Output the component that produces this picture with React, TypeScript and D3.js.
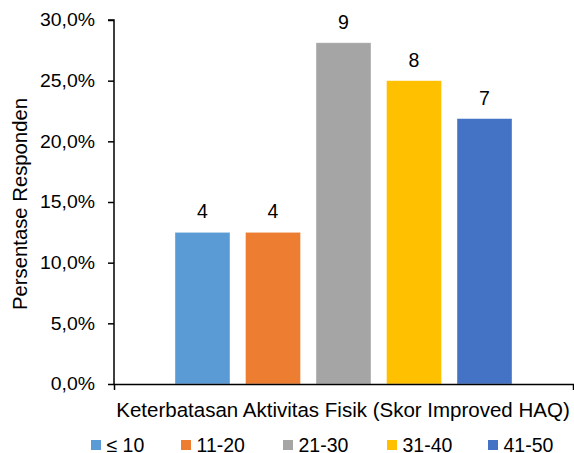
import React from 'react';
import * as d3 from 'd3';

const categories = ['≤ 10', '11-20', '21-30', '31-40', '41-50'];
const counts = [4, 4, 9, 8, 7];
const percents = [12.5, 12.5, 28.125, 25, 21.875];
const colors = ['#5B9BD5', '#ED7D31', '#A5A5A5', '#FFC000', '#4472C4'];
const yTicks = [0, 5, 10, 15, 20, 25, 30];
const xTitle = 'Keterbatasan Aktivitas Fisik (Skor Improved HAQ)';
const yTitle = 'Persentase Responden';

const W = 574;
const H = 453;
const margin = { top: 20, right: 1, bottom: 69, left: 114 };

const App = () => {
  const ref = React.useRef<SVGSVGElement>(null);

  React.useEffect(() => {
    const root = d3.select(ref.current);
    root.selectAll('*').remove();
    const font = 'Liberation Sans, Arial, sans-serif';
    const tickStretch = 1.08;

    const y = d3.scaleLinear().domain([0, 30]).range([H - margin.bottom, margin.top]);
    const x0 = d3.scaleBand().domain(['g']).range([margin.left, W - margin.right]).paddingOuter(0.151);
    const x1 = d3.scaleBand().domain(categories).range([x0('g')!, x0('g')! + x0.bandwidth()])
      .paddingInner(0.22).paddingOuter(0.11);

    // bars
    root.append('g').selectAll('rect')
      .data(categories)
      .enter()
      .append('rect')
      .attr('x', d => x1(d)!)
      .attr('y', (d, i) => y(percents[i]))
      .attr('width', x1.bandwidth())
      .attr('height', (d, i) => y(0) - y(percents[i]))
      .attr('fill', (d, i) => colors[i])
      .attr('stroke', '#ffffff')
      .attr('stroke-opacity', 0.5)
      .attr('stroke-width', 0.75);

    // value labels
    root.append('g').selectAll('text')
      .data(categories)
      .enter()
      .append('text')
      .attr('x', d => x1(d)! + x1.bandwidth() / 2)
      .attr('y', (d, i) => y(percents[i]) - 14)
      .attr('text-anchor', 'middle')
      .attr('font-family', font)
      .attr('font-size', 19.5)
      .attr('fill', '#000')
      .text((d, i) => String(counts[i]));

    // y axis
    const yAxis = root.append('g')
      .attr('transform', `translate(${margin.left},0)`)
      .call(d3.axisLeft(y).tickValues(yTicks).tickSize(6)
        .tickFormat(d => (d as number).toFixed(1).replace('.', ',') + '%'));
    yAxis.select('.domain').attr('d', `M-6,${y(30)}H0V${y(0)}`).attr('stroke', '#000').attr('stroke-width', 1.5);
    yAxis.selectAll('.tick line').attr('stroke', '#000').attr('stroke-width', 1.5);
    yAxis.selectAll('.tick text')
      .attr('x', -19 / tickStretch)
      .attr('transform', `scale(${tickStretch},1)`)
      .attr('font-family', font).attr('font-size', 18).attr('fill', '#000');

    // x axis
    const xAxis = root.append('g')
      .attr('transform', `translate(0,${y(0)})`)
      .call(d3.axisBottom(x0).tickValues([]).tickSizeOuter(6));
    xAxis.select('.domain').attr('stroke', '#000').attr('stroke-width', 1.5);

    // axis titles
    root.append('text')
      .attr('x', (margin.left + W - margin.right) / 2 - 0.5)
      .attr('y', 417)
      .attr('text-anchor', 'middle')
      .attr('font-family', font)
      .attr('font-size', 20.5)
      .attr('fill', '#000')
      .text(xTitle);

    root.append('text')
      .attr('transform', `translate(27,${(margin.top + y(0)) / 2 + 2}) rotate(-90)`)
      .attr('text-anchor', 'middle')
      .attr('font-family', font)
      .attr('font-size', 20.3)
      .attr('fill', '#000')
      .text(yTitle);

    // legend
    const legendX = [91, 181, 283, 387, 488];
    const legend = root.append('g').selectAll('g')
      .data(categories)
      .enter()
      .append('g')
      .attr('transform', (d, i) => `translate(${legendX[i]},440)`);
    legend.append('rect')
      .attr('width', 10).attr('height', 10)
      .attr('fill', (d, i) => colors[i]);
    legend.append('text')
      .attr('x', 15.5)
      .attr('y', 11.5)
      .attr('font-family', font)
      .attr('font-size', 19.5)
      .attr('fill', '#000')
      .text(d => d);
  }, []);

  return (
    <svg ref={ref} width={W} height={H}
      style={{ position: 'absolute', left: 0, top: 0, background: '#fff' }} />
  );
};

export default App;
